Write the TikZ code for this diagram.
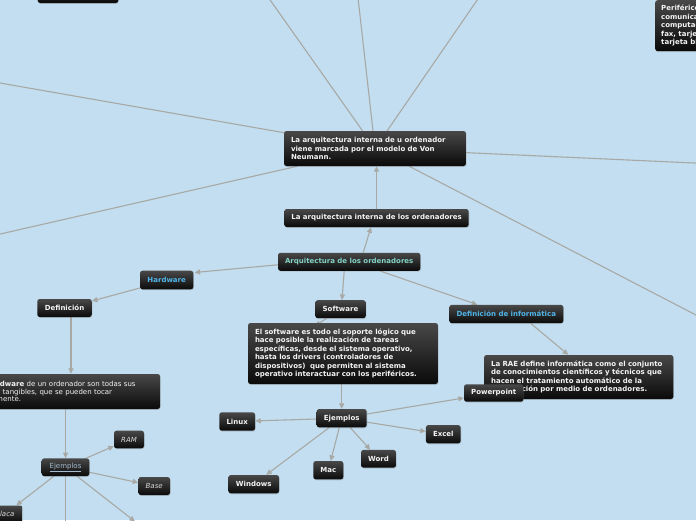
\documentclass[tikz,border=0pt]{standalone}
\usepackage{fontspec}
\setmainfont{DejaVu Sans}
\usetikzlibrary{arrows.meta,shadows}
\definecolor{bgblue}{RGB}{194,222,240}
\definecolor{linegray}{RGB}{168,168,164}
\definecolor{boxtop}{RGB}{72,72,72}
\definecolor{boxbot}{RGB}{10,10,10}
\definecolor{txtwhite}{RGB}{244,244,244}
\definecolor{txtblue}{RGB}{80,180,232}
\definecolor{txtteal}{RGB}{130,210,198}
\definecolor{txtlink}{RGB}{165,188,210}
\definecolor{txtital}{RGB}{218,218,218}
\pgfdeclarelayer{back}
\pgfdeclarelayer{edges}
\pgfsetlayers{back,edges,main}
\begin{document}
\begin{tikzpicture}[x=1pt,y=-1pt,
  mmbox/.style={rectangle, rounded corners=2.5pt, top color=boxtop, bottom color=boxbot,
    draw=none, inner xsep=7pt, inner ysep=0pt, text=txtwhite,
    font=\fontsize{7}{8.5}\selectfont\bfseries,
    drop shadow={opacity=0.3,shadow xshift=0.6pt,shadow yshift=-0.9pt}},
  mmlbl/.style={mmbox, minimum height=18pt},
  mmtxt/.style={mmbox, align=left},
  mmital/.style={mmlbl, text=txtital, font=\fontsize{7}{8.5}\selectfont\itshape},
  ed/.style={draw=linegray, line width=1.1pt},
  arr/.style={ed, -{Triangle[length=5.5pt,width=5pt]}}
]
\useasboundingbox (0,0) rectangle (696,520);
\begin{pgfonlayer}{back}
  \fill[bgblue] (0,0) rectangle (696,520);
\end{pgfonlayer}

% nodes
\node[mmbox, minimum width=80.6pt, minimum height=22pt] (tl) at (78,-8) {};
\node[mmtxt, text width=160pt, minimum height=51pt, anchor=north west, inner xsep=6pt,
  font=\fontsize{7}{8.5}\selectfont\bfseries] (tr) at (655,0)
  {Periféricos de\\comunicación entre\\computadoras: módem,\\fax, tarjeta de red,\\tarjeta bluetooth.};
\node[mmtxt, text width=168pt, minimum height=35pt] (main) at (375,148.5)
  {La arquitectura interna de u ordenador\\viene marcada por el modelo de Von\\Neumann.};
\node[mmlbl, minimum width=183pt] (arqint) at (376.5,218) {La arquitectura interna de los ordenadores};
\node[mmlbl, minimum width=141.7pt, text=txtteal] (arq) at (349.2,261.8) {Arquitectura de los ordenadores};
\node[mmlbl, minimum width=53.3pt, minimum height=18.6pt, text=txtblue] (hardware) at (166.7,280) {Hardware};
\node[mmlbl, minimum width=50.4pt] (software) at (340.5,309.2) {Software};
\node[mmlbl, minimum width=114pt, minimum height=18.3pt, text=txtblue] (definf) at (506.3,314) {Definición de informática};
\node[mmtxt, text width=176pt, minimum height=61pt] (swdesc) at (343,353.5)
  {El software es todo el soporte lógico que\\hace posible la realización de tareas\\específicas, desde el sistema operativo,\\hasta los drivers (controladores de\\dispositivos)\ \ que permiten al sistema\\operativo interactuar con los periféricos.};
\node[mmtxt, text width=175.3pt, minimum height=44pt, font=\fontsize{7}{8.2}\selectfont\bfseries] (rae) at (578.7,377)
  {La RAE define informática como el conjunto\\de conocimientos científicos y técnicos que\\hacen el tratamiento automático de la\\información por medio de ordenadores.};
\node[mmlbl, minimum width=59.3pt, minimum height=17.4pt] (powerpoint) at (493.7,393) {Powerpoint};
\node[mmlbl, minimum width=54.5pt] (definicion) at (64.5,308) {Definición};
\node[mmtxt, text width=175pt, minimum height=35pt, font=\fontsize{7}{7.6}\selectfont] (hwdesc) at (65.6,391.5)
  {El \textbf{hardware} de un ordenador son todas sus\\partes tangibles, que se pueden tocar\\físicamente.};
\node[mmlbl, minimum width=47.6pt, minimum height=17.7pt, text=txtlink, font=\fontsize{7}{8.5}\selectfont] (ejemplosH) at (65.5,467.2) {\underline{Ejemplos}};
\node[mmital, minimum width=30pt, minimum height=17.6pt] (ram) at (129,439.5) {RAM};
\node[mmital, minimum width=31.7pt] (base) at (154.2,486) {Base};
\node[mmital, minimum width=35pt, minimum height=17pt] (placa) at (5.1,514) {Placa};
\node[mmlbl, minimum width=50pt, minimum height=18.3pt] (ejemplosS) at (341.7,418.2) {Ejemplos};
\node[mmlbl, minimum width=35.7pt, minimum height=18.4pt] (linux) at (237.2,421.5) {Linux};
\node[mmlbl, minimum width=34.7pt, minimum height=18.3pt] (excel) at (443.3,434.2) {Excel};
\node[mmlbl, minimum width=35pt, minimum height=17.7pt] (word) at (378.5,458.8) {Word};
\node[mmlbl, minimum width=30pt, minimum height=18.3pt] (mac) at (328.3,470.2) {Mac};
\node[mmlbl, minimum width=50.7pt, minimum height=18.3pt] (windows) at (253.7,484.2) {Windows};

% off-picture ends
\coordinate (cT1) at (256,-20);
\coordinate (cT2) at (356,-20);
\coordinate (cT3) at (491,-20);
\coordinate (cL1) at (-20,79.5);
\coordinate (cL2) at (-20,238.6);
\coordinate (cR1) at (716,164);
\coordinate (cR2) at (716,325.4);
\coordinate (cD) at (65.5,560);
\coordinate (cDR) at (135,521.5);
\coordinate (cSW) at (315,326);

\begin{pgfonlayer}{edges}
  \draw[ed] (main) -- (cT1);
  \draw[ed] (main) -- (cT2);
  \draw[ed] (main) -- (cT3);
  \draw[ed] (main) -- (cL1);
  \draw[ed] (main) -- (cL2);
  \draw[ed] (main) -- (cR1);
  \draw[ed] (main) -- (cR2);
  \draw[arr] (arqint.north) -- (arqint.north |- main.south);
  \draw[arr] ([xshift=14pt]arq.north) -- ([xshift=-5.5pt]arqint.south);
  \draw[arr] ([yshift=-3pt]arq.west) -- ([xshift=1pt,yshift=7.5pt]hardware.east);
  \draw[arr] ([xshift=-5pt]arq.south) -- ([xshift=1.5pt]software.north);
  \draw[arr] ([xshift=31pt]arq.south) -- ([xshift=-29pt]definf.north);
  \draw[arr] ([yshift=-8pt]hardware.west) -- ([yshift=7pt]definicion.east);
  \draw[arr] ([xshift=6.5pt]definicion.south) -- ([xshift=5.4pt]hwdesc.north);
  \draw[arr] ([xshift=0pt]hwdesc.south) -- (hwdesc.south |- ejemplosH.north);
  \draw[arr] (ejemplosH) -- (ram);
  \draw[arr] (ejemplosH) -- (base);
  \draw[arr] (ejemplosH) -- (placa);
  \draw[arr] (ejemplosH) -- (cD);
  \draw[arr] (ejemplosH) -- (cDR);
  \draw[arr] (software) -- (cSW);
  \draw[arr] (swdesc.south -| ejemplosS.north) -- (ejemplosS.north);
  \draw[arr] (ejemplosS) -- (linux);
  \draw[arr] (ejemplosS) -- (windows);
  \draw[arr] (ejemplosS) -- (mac);
  \draw[arr] (ejemplosS) -- (word);
  \draw[arr] (ejemplosS) -- (excel);
  \draw[arr] (ejemplosS) -- (powerpoint);
  \draw[arr] ([xshift=24.4pt]definf.south) -- ([xshift=-10.4pt]rae.north);
\end{pgfonlayer}
\end{tikzpicture}
\end{document}
